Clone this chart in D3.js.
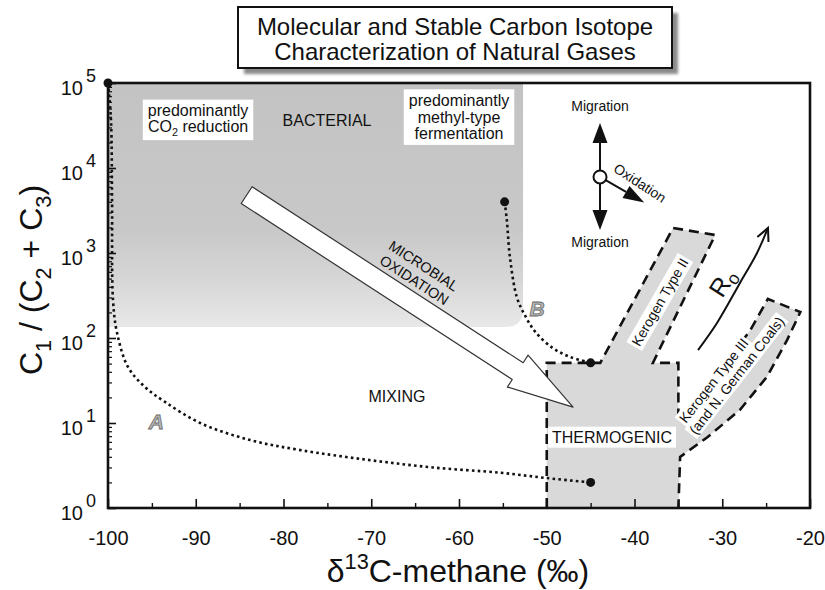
<!DOCTYPE html>
<html><head><meta charset="utf-8">
<script src="https://cdn.jsdelivr.net/npm/d3@7"></script>
<style>
body{margin:0;background:#fff;}
text{font-family:"Liberation Sans",Arial,Helvetica,sans-serif;fill:#111;}
</style></head><body>
<svg id="chart" width="825" height="590"></svg>
<script>
// ---------------- data ----------------
const xTicks = [-100, -90, -80, -70, -60, -50, -40, -30, -20];
const xMinorTicks = [-95, -85, -75, -65, -55, -45, -35, -25];
const yTickExps = [0, 1, 2, 3, 4, 5];
const bacterialBox = [[-100, 135], [-52.7, 100000]];
const thermogenicOutline = [
  [-50, 1], [-50, 51], [-43.9, 51], [-35.6, 1970], [-30.8, 1630], [-37.9, 51], [-35, 51], [-35, 10.8],
  [-32.5, 20.2], [-29.9, 45.6], [-26.8, 124], [-24.8, 288], [-21.1, 202], [-22.6, 95], [-24.9, 35],
  [-28.0, 14.2], [-31.7, 6.8], [-34.8, 4.0], [-35, 1]
];
const mixingLineA = [
  [-100, 100000], [-99.66, 36700], [-99.54, 4200], [-99.43, 280], [-98.97, 115], [-97.72, 45.6],
  [-95.78, 26.5], [-93.5, 17.7], [-89.5, 10], [-83.8, 6.3], [-78.1, 4.8], [-70.5, 3.7], [-63.0, 3.0],
  [-55.3, 2.6], [-50.0, 2.25], [-45, 2.0]
];
const mixingLineB = [
  [-54.8, 4000], [-54.55, 2450], [-54.2, 900], [-53.4, 300], [-52.5, 186], [-51.3, 118],
  [-49.3, 76], [-47.35, 60], [-45, 51]
];
const endPoints = [[-100, 100000], [-45, 2], [-54.8, 4000], [-45, 51]];
const microbialArrow = [[-84.2, 4800], [-47.0, 15.4]];
const roArrow = [[-32.76, 72], [-30.6, 150], [-27.98, 444], [-26.04, 1000], [-24.79, 1970]];
const migrationCenter = [-43.93, 7840];
const titleLines = ["Molecular and Stable Carbon Isotope", "Characterization of Natural Gases"];

// ---------------- setup ----------------
const svg = d3.select("#chart");
const x = d3.scaleLinear().domain([-100, -20]).range([108, 810]);
const y = d3.scaleLog().domain([1, 1e5]).range([508, 83]);
const P = d => [x(d[0]), y(d[1])];

function rich(textEl, str, fs) {
  const re = /([_^])\{([^}]*)\}|([^_^]+)/g; let m; let cur = 0;
  while ((m = re.exec(str))) {
    let t, target, size = fs;
    if (m[3] !== undefined) { t = m[3]; target = 0; }
    else { t = m[2]; size = fs * 0.68; target = m[1] === "_" ? fs * 0.28 : -fs * 0.42; }
    textEl.append("tspan").attr("dy", target - cur).attr("font-size", size).text(t);
    cur = target;
  }
}

const defs = svg.append("defs");
const grad = defs.append("linearGradient").attr("id", "bactGrad")
  .attr("x1", 0).attr("y1", 0).attr("x2", 0).attr("y2", 1);
[[0, "#c3c3c3"], [0.6, "#c8c8c8"], [0.8, "#d6d6d6"], [1, "#e8e8e8"]]
  .forEach(s => grad.append("stop").attr("offset", s[0]).attr("stop-color", s[1]));
defs.append("filter").attr("id", "blur").append("feGaussianBlur").attr("stdDeviation", 1.5);

// ---------------- title ----------------
svg.append("rect").attr("x", 244).attr("y", 13).attr("width", 434).attr("height", 61)
  .attr("fill", "#8a8a8a").attr("filter", "url(#blur)");
svg.append("rect").attr("x", 238).attr("y", 7).attr("width", 434).attr("height", 61)
  .attr("fill", "#fff").attr("stroke", "#111").attr("stroke-width", 2);
svg.append("g").selectAll("text").data(titleLines).join("text")
  .attr("x", 455).attr("y", (d, i) => 35 + i * 25)
  .attr("text-anchor", "middle").attr("font-size", 24).text(d => d);

// ---------------- regions ----------------
{
  const x0 = x(bacterialBox[0][0]), x1 = x(bacterialBox[1][0]);
  const yb = y(bacterialBox[0][1]), yt = y(bacterialBox[1][1]), r = 18;
  svg.append("path")
    .attr("d", `M${x0},${yt}H${x1}V${yb - r}Q${x1},${yb} ${x1 - r},${yb}H${x0}Z`)
    .attr("fill", "url(#bactGrad)");
}
const lin = d3.line().x(d => x(d[0])).y(d => y(d[1]));
svg.append("path").attr("d", lin(thermogenicOutline) + "Z").attr("fill", "#d9d9d9");
svg.append("path").attr("d", lin(thermogenicOutline)).attr("fill", "none")
  .attr("stroke", "#111").attr("stroke-width", 2.6).attr("stroke-dasharray", "10,6");

// ---------------- mixing curves ----------------
const curve = d3.line().x(d => x(d[0])).y(d => y(d[1])).curve(d3.curveCatmullRom.alpha(0.5));
[mixingLineA, mixingLineB].forEach(c => svg.append("path").attr("d", curve(c))
  .attr("fill", "none").attr("stroke", "#111").attr("stroke-width", 2.6)
  .attr("stroke-dasharray", "2.6,3.2"));

// ---------------- microbial oxidation arrow ----------------
{
  const S = P(microbialArrow[0]), E = P(microbialArrow[1]);
  const L = Math.hypot(E[0] - S[0], E[1] - S[1]);
  const u = [(E[0] - S[0]) / L, (E[1] - S[1]) / L], n = [-u[1], u[0]];
  const w = 10, hw = 19, hl = 66;
  const B = [E[0] - u[0] * hl, E[1] - u[1] * hl];
  const pt = (b, k) => [b[0] + n[0] * k, b[1] + n[1] * k];
  const pts = [pt(S, w), pt(B, w), pt(B, hw), E, pt(B, -hw), pt(B, -w), pt(S, -w)];
  svg.append("polygon").attr("points", pts.map(p => p.join(",")).join(" "))
    .attr("fill", "#fff").attr("stroke", "#333").attr("stroke-width", 1.2).attr("stroke-linejoin", "round");
}

// ---------------- text labels ----------------
function boxedLabel(lines, d, fs, lh, pad, boxed, rot) {
  const [cx, cy] = P(d);
  const g = svg.append("g").attr("transform", `translate(${cx},${cy}) rotate(${rot || 0})`);
  const n = lines.length;
  lines.forEach((s, i) => {
    const tl = g.append("text").attr("text-anchor", "middle").attr("font-size", fs)
      .attr("x", 0).attr("y", (i - (n - 1) / 2) * lh + 0.35 * fs);
    rich(tl, s, fs);
  });
  if (boxed) {
    const bb = g.node().getBBox();
    g.insert("rect", ":first-child").attr("x", bb.x - pad[0]).attr("y", bb.y - pad[1])
      .attr("width", bb.width + 2 * pad[0]).attr("height", bb.height + 2 * pad[1]).attr("fill", "#fff");
  }
  return g;
}
boxedLabel(["predominantly", "CO_{2} reduction"], [-89.74, 38700], 16, 16, [5, 2], true);
boxedLabel(["BACTERIAL"], [-75.04, 36700], 16, 16, [0, 0], false);
boxedLabel(["predominantly", "methyl-type", "fermentation"], [-60.0, 39800], 16, 16.3, [5, 3], true);
boxedLabel(["MIXING"], [-67.07, 20.8], 16, 16, [0, 0], false);
boxedLabel(["THERMOGENIC"], [-42.56, 6.84], 16, 16, [4, 2], true);
boxedLabel(["MICROBIAL", "OXIDATION"], [-64.56, 582], 14.5, 17, [0, 0], false, 33);
boxedLabel(["Kerogen Type II"], [-37.1, 265], 14, 14, [2, 1], true, -60);
boxedLabel(["Migration"], [-43.93, 53600], 14, 14, [0, 0], false);
boxedLabel(["Migration"], [-43.93, 1347], 14, 14, [0, 0], false);
boxedLabel(["Oxidation"], [-39.37, 6660], 14, 14, [0, 0], false, 33);

// Kerogen type III (two left-aligned lines)
{
  const [sx, sy] = P([-34.13, 9.73]);
  const g = svg.append("g").attr("transform", `translate(${sx},${sy}) rotate(-52)`);
  ["Kerogen Type III", "(and N. German Coals)"].forEach((s, i) => {
    const gg = g.append("g");
    const t = gg.append("text").attr("x", i === 1 ? -3 : 0).attr("y", i * 15).attr("font-size", 14).text(s);
    const bb = t.node().getBBox();
    gg.insert("rect", ":first-child").attr("x", bb.x - 2).attr("y", bb.y).attr("width", bb.width + 4)
      .attr("height", bb.height).attr("fill", "#fff");
  });
}

// A / B labels
[["A", [-94.5, 10.6]], ["B", [-51.1, 225]]].forEach(([s, d]) => {
  const [px, py] = P(d);
  svg.append("text").attr("x", px).attr("y", py + 8).attr("text-anchor", "middle")
    .attr("font-size", 21).attr("font-style", "italic").attr("font-weight", "bold")
    .style("fill", "#b5b5b5").attr("stroke", "#6a6a6a").attr("stroke-width", 0.8).text(s);
});

// Ro arrow
{
  const pts = roArrow.map(P);
  svg.append("path").attr("d", d3.line().curve(d3.curveCatmullRom.alpha(0.5))(pts))
    .attr("fill", "none").attr("stroke", "#111").attr("stroke-width", 2);
  const e = pts[pts.length - 1], p = pts[pts.length - 2];
  const a = Math.atan2(e[1] - p[1], e[0] - p[0]);
  const hl = 14, sp = 0.45;
  const h1 = [e[0] - hl * Math.cos(a - sp), e[1] - hl * Math.sin(a - sp)];
  const h2 = [e[0] - hl * Math.cos(a + sp), e[1] - hl * Math.sin(a + sp)];
  svg.append("path").attr("d", `M${h1}L${e}L${h2}`).attr("fill", "none")
    .attr("stroke", "#111").attr("stroke-width", 2);
  const [rx, ry] = P([-29.9, 444]);
  const t = svg.append("text").attr("transform", `translate(${rx},${ry}) rotate(-57)`)
    .attr("text-anchor", "middle").attr("y", 8).attr("font-size", 25);
  t.append("tspan").text("R");
  t.append("tspan").attr("font-size", 18).attr("dy", 4).text("o");
}

// Migration / oxidation symbol
{
  const [cx, cy] = P(migrationCenter);
  const r = 6.5;
  const arrow = (ang, start, base, tip, hw) => {
    const c = Math.cos(ang), s = Math.sin(ang);
    svg.append("line").attr("x1", cx + c * start).attr("y1", cy + s * start)
      .attr("x2", cx + c * base).attr("y2", cy + s * base).attr("stroke", "#111").attr("stroke-width", 2);
    const bx = cx + c * base, by = cy + s * base;
    svg.append("polygon").attr("points",
      `${bx - s * hw},${by + c * hw} ${cx + c * tip},${cy + s * tip} ${bx + s * hw},${by - c * hw}`)
      .attr("fill", "#111");
  };
  arrow(-Math.PI / 2, r, 34, 54, 7.5);
  arrow(Math.PI / 2, r, 33, 53, 7.5);
  arrow(Math.PI / 6, r, 30, 51, 7);
  svg.append("circle").attr("cx", cx).attr("cy", cy).attr("r", r)
    .attr("fill", "#fff").attr("stroke", "#111").attr("stroke-width", 2);
}

// ---------------- axes & frame ----------------
const gx = svg.append("g").attr("transform", `translate(0,${y(1)})`)
  .call(d3.axisBottom(x).tickValues(xTicks).tickSize(-9).tickPadding(23).tickFormat(d => String(d)));
gx.select(".domain").remove();
gx.selectAll("text").attr("font-size", 20).style("font-family", '"Liberation Sans",Arial,sans-serif').attr("fill", "#111");
gx.selectAll("line").attr("stroke", "#111").attr("stroke-width", 1.6);
const gxm = svg.append("g").attr("transform", `translate(0,${y(1)})`)
  .call(d3.axisBottom(x).tickValues(xMinorTicks).tickSize(-5).tickFormat(""));
gxm.select(".domain").remove();
gxm.selectAll("line").attr("stroke", "#111").attr("stroke-width", 1.4);

const yMajor = yTickExps.map(e => Math.pow(10, e));
const yMinor = [];
yTickExps.slice(0, -1).forEach(e => { for (let k = 2; k < 10; k++) yMinor.push(k * Math.pow(10, e)); });
const gy = svg.append("g").attr("transform", `translate(${x(-100)},0)`)
  .call(d3.axisLeft(y).tickValues(yMajor).tickSize(-8).tickFormat(""));
gy.select(".domain").remove();
gy.selectAll("line").attr("stroke", "#111").attr("stroke-width", 1.6);
const gym = svg.append("g").attr("transform", `translate(${x(-100)},0)`)
  .call(d3.axisLeft(y).tickValues(yMinor).tickSize(-4).tickFormat(""));
gym.select(".domain").remove();
gym.selectAll("line").attr("stroke", "#111").attr("stroke-width", 1.2);

const yl = svg.append("g").selectAll("g").data(yTickExps).join("g");
yl.append("text").attr("x", 83).attr("y", e => y(Math.pow(10, e)) + 12)
  .attr("text-anchor", "end").attr("font-size", 20).text("10");
yl.append("text").attr("x", 86).attr("y", e => y(Math.pow(10, e)) - 1)
  .attr("font-size", 18).text(e => e);

svg.append("rect").attr("x", x(-100)).attr("y", y(1e5)).attr("width", x(-20) - x(-100))
  .attr("height", y(1) - y(1e5)).attr("fill", "none").attr("stroke", "#111").attr("stroke-width", 2.6);

// end-point dots
svg.append("g").selectAll("circle").data(endPoints).join("circle")
  .attr("cx", d => x(d[0])).attr("cy", d => y(d[1])).attr("r", 4.5).attr("fill", "#111");

// axis titles
{
  const t = svg.append("text").attr("x", 458).attr("y", 582).attr("text-anchor", "middle").attr("font-size", 32);
  rich(t, "δ^{13}C-methane (‰)", 32);
  const ty = svg.append("text").attr("transform", "translate(42,280) rotate(-90)")
    .attr("text-anchor", "middle").attr("font-size", 32);
  rich(ty, "C_{1} / (C_{2} + C_{3})", 32);
}
</script>
</body></html>
